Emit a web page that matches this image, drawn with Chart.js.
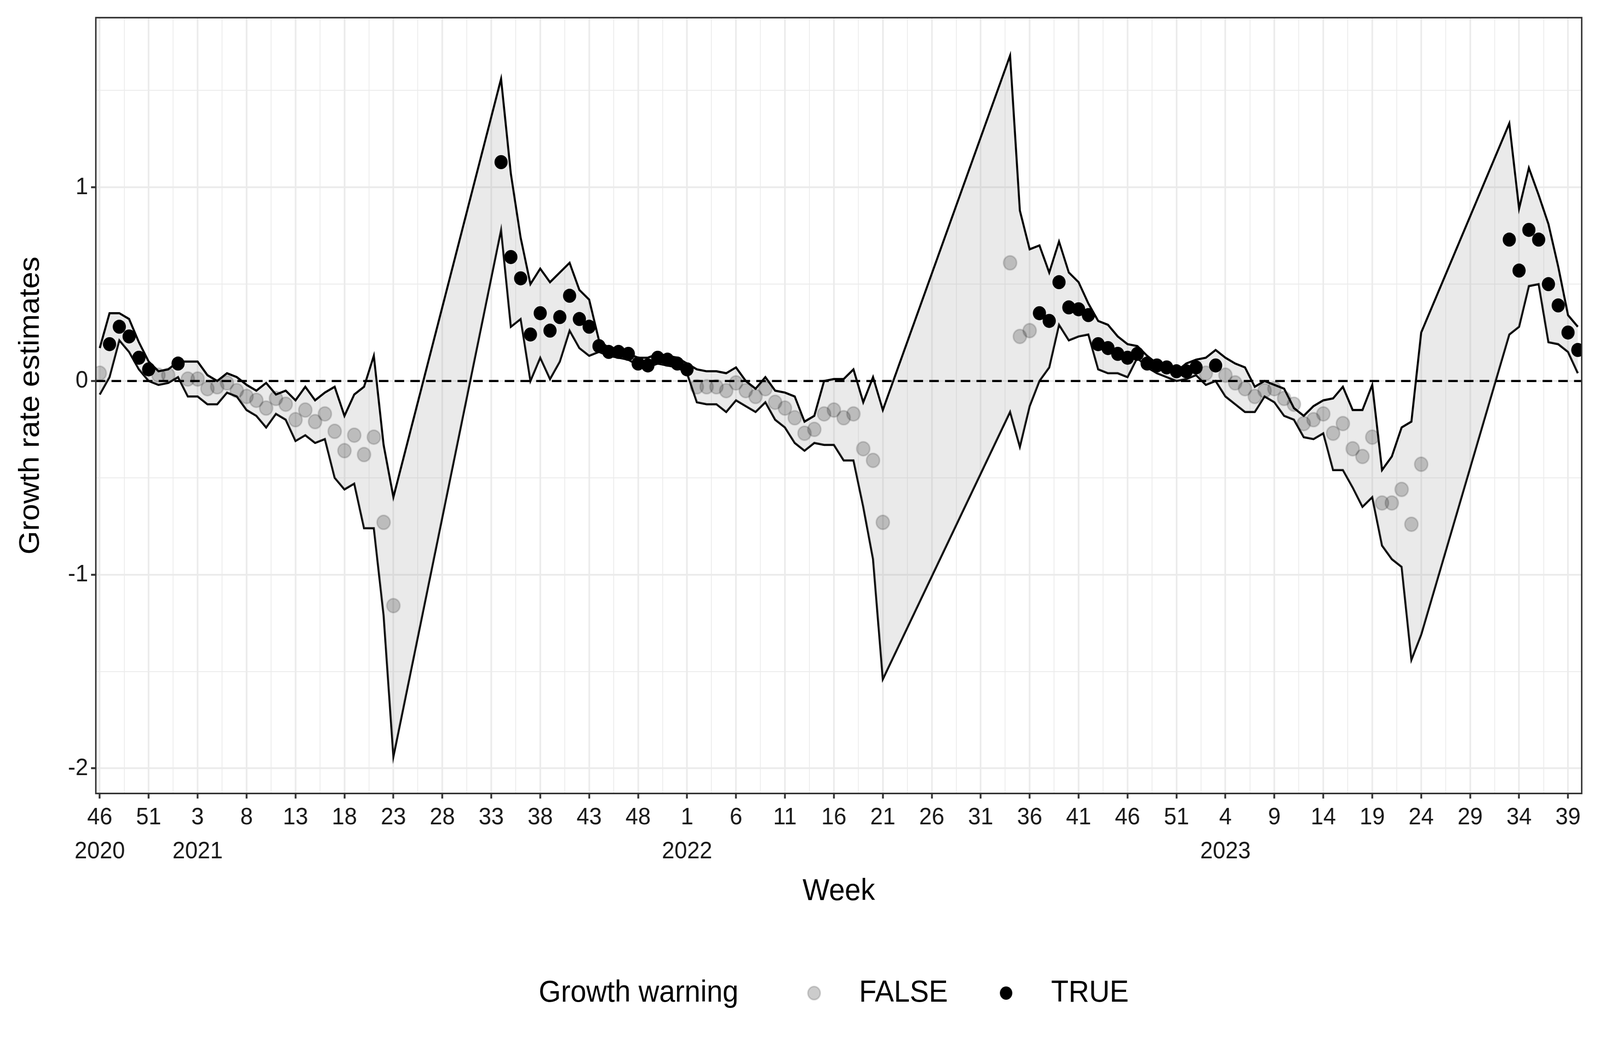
<!DOCTYPE html>
<html>
<head>
<meta charset="utf-8">
<script src="https://cdn.jsdelivr.net/npm/chart.js@4"></script>
<style>
  html, body { margin: 0; padding: 0; background: #fff; overflow: hidden; }
  canvas { display: block; width: 100vw !important; height: 100vh !important; }
</style>
</head>
<body>
<canvas id="chart" width="4375" height="2703"></canvas>
<script>
// weeks 2020-46 .. 2023-40 (2020 has 53 ISO weeks)
const yearWeeks = [[2020, 46, 53], [2021, 1, 52], [2022, 1, 52], [2023, 1, 40]];
const weeks = [];
yearWeeks.forEach(([yr, a, b]) => { for (let w = a; w <= b; w++) weeks.push({ yr, w }); });

const N = null;
const estimate = [
  0.04, 0.19, 0.28, 0.23, 0.12, 0.06, 0.03, 0.03, 0.09, 0.01,
  0.01, -0.04, -0.03, -0.01, -0.05, -0.08, -0.1, -0.14, -0.09, -0.12,
  -0.2, -0.15, -0.21, -0.17, -0.26, -0.36, -0.28, -0.38, -0.29, -0.73,
  -1.16, N, N, N, N, N, N, N, N, N,
  N, 1.13, 0.64, 0.53, 0.24, 0.35, 0.26, 0.33, 0.44, 0.32,
  0.28, 0.18, 0.15, 0.15, 0.14, 0.09, 0.08, 0.12, 0.11, 0.09,
  0.06, -0.03, -0.03, -0.03, -0.05, -0.01, -0.05, -0.08, -0.04, -0.11,
  -0.14, -0.19, -0.27, -0.25, -0.17, -0.15, -0.19, -0.17, -0.35, -0.41,
  -0.73, N, N, N, N, N, N, N, N, N,
  N, N, N, 0.61, 0.23, 0.26, 0.35, 0.31, 0.51, 0.38,
  0.37, 0.34, 0.19, 0.17, 0.14, 0.12, 0.14, 0.09, 0.08, 0.07,
  0.05, 0.05, 0.07, 0.04, 0.08, 0.03, -0.01, -0.04, -0.08, -0.05,
  -0.04, -0.09, -0.12, -0.22, -0.2, -0.17, -0.27, -0.22, -0.35, -0.39,
  -0.29, -0.63, -0.63, -0.56, -0.74, -0.43, N, N, N, N,
  N, N, N, N, 0.73, 0.57, 0.78, 0.73, 0.5, 0.39,
  0.25, 0.16
];
const warning = [
  0, 1, 1, 1, 1, 1, 0, 0, 1, 0,
  0, 0, 0, 0, 0, 0, 0, 0, 0, 0,
  0, 0, 0, 0, 0, 0, 0, 0, 0, 0,
  0, 0, 0, 0, 0, 0, 0, 0, 0, 0,
  0, 1, 1, 1, 1, 1, 1, 1, 1, 1,
  1, 1, 1, 1, 1, 1, 1, 1, 1, 1,
  1, 0, 0, 0, 0, 0, 0, 0, 0, 0,
  0, 0, 0, 0, 0, 0, 0, 0, 0, 0,
  0, 0, 0, 0, 0, 0, 0, 0, 0, 0,
  0, 0, 0, 0, 0, 0, 1, 1, 1, 1,
  1, 1, 1, 1, 1, 1, 1, 1, 1, 1,
  1, 1, 1, 0, 1, 0, 0, 0, 0, 0,
  0, 0, 0, 0, 0, 0, 0, 0, 0, 0,
  0, 0, 0, 0, 0, 0, 0, 0, 0, 0,
  0, 0, 0, 0, 1, 1, 1, 1, 1, 1,
  1, 1
];
const upper = [
  0.17, 0.35, 0.35, 0.32, 0.2, 0.1, 0.05, 0.06, 0.1, 0.1,
  0.1, 0.03, 0.0, 0.04, 0.02, -0.02, -0.05, -0.01, -0.07, -0.05,
  -0.1, -0.03, -0.1, -0.06, -0.03, -0.18, -0.07, -0.03, 0.13, -0.33,
  -0.6, N, N, N, N, N, N, N, N, N,
  N, 1.56, 1.07, 0.74, 0.5, 0.58, 0.51, 0.56, 0.61, 0.47,
  0.42, 0.21, 0.17, 0.16, 0.14, 0.12, 0.12, 0.14, 0.13, 0.12,
  0.09, 0.06, 0.05, 0.05, 0.04, 0.07, 0.0, -0.04, 0.02, -0.05,
  -0.06, -0.08, -0.21, -0.18, 0.0, 0.01, 0.01, 0.06, -0.11, 0.02,
  -0.15, N, N, N, N, N, N, N, N, N,
  N, N, N, 1.68, 0.88, 0.68, 0.7, 0.56, 0.72, 0.56,
  0.51, 0.4, 0.31, 0.29, 0.23, 0.19, 0.18, 0.13, 0.09, 0.07,
  0.05, 0.09, 0.11, 0.12, 0.16, 0.12, 0.09, 0.07, -0.03, 0.0,
  -0.02, -0.04, -0.14, -0.18, -0.13, -0.1, -0.09, -0.03, -0.15, -0.15,
  -0.02, -0.46, -0.39, -0.24, -0.21, 0.25, N, N, N, N,
  N, N, N, N, 1.33, 0.89, 1.1, 0.96, 0.81, 0.59,
  0.34, 0.28
];
const lower = [
  -0.07, 0.02, 0.21, 0.15, 0.06, 0.0, -0.02, -0.01, 0.02, -0.08,
  -0.08, -0.12, -0.12, -0.06, -0.08, -0.15, -0.18, -0.24, -0.17, -0.2,
  -0.31, -0.28, -0.32, -0.3, -0.5, -0.56, -0.53, -0.76, -0.76, -1.21,
  -1.94, N, N, N, N, N, N, N, N, N,
  N, 0.78, 0.28, 0.32, 0.0, 0.12, 0.01, 0.1, 0.26, 0.17,
  0.13, 0.15, 0.13, 0.12, 0.11, 0.08, 0.07, 0.09, 0.08, 0.07,
  0.04, -0.11, -0.12, -0.12, -0.16, -0.1, -0.13, -0.16, -0.11, -0.2,
  -0.24, -0.32, -0.36, -0.32, -0.33, -0.33, -0.41, -0.41, -0.65, -0.92,
  -1.54, N, N, N, N, N, N, N, N, N,
  N, N, N, -0.16, -0.34, -0.13, 0.0, 0.07, 0.29, 0.21,
  0.23, 0.24, 0.06, 0.04, 0.04, 0.02, 0.12, 0.07, 0.04, 0.02,
  0.0, 0.01, 0.03, -0.02, 0.0, -0.08, -0.12, -0.16, -0.16, -0.08,
  -0.11, -0.18, -0.2, -0.29, -0.3, -0.27, -0.46, -0.46, -0.55, -0.65,
  -0.6, -0.85, -0.92, -0.96, -1.44, -1.31, N, N, N, N,
  N, N, N, N, 0.24, 0.28, 0.49, 0.5, 0.2, 0.19,
  0.15, 0.04
];
const yTicks = [-2, -1, 0, 1];

const pts = arr => arr.map((v, i) => ({ x: i, y: v }));
const falsePts = estimate.map((v, i) => ({ x: i, y: (v !== null && !warning[i]) ? v : null }));
const truePts = estimate.map((v, i) => ({ x: i, y: (v !== null && warning[i]) ? v : null }));

const FONT = 'Liberation Sans, Arial, sans-serif';
const XMIN = -0.4, XMAX = 151.4;

const overlay = {
  id: 'overlay',
  afterDraw(chart) {
    const { ctx, chartArea: a } = chart;
    ctx.save();
    ctx.strokeStyle = '#333333';
    ctx.lineWidth = 4;
    ctx.strokeRect(a.left, a.top, a.right - a.left, a.bottom - a.top);
    ctx.fillStyle = '#000';
    ctx.font = '78px ' + FONT;
    ctx.textAlign = 'center';
    ctx.textBaseline = 'middle';
    ctx.fillText('Week', (a.left + a.right) / 2, 2282);
    ctx.save();
    ctx.translate(84, (a.top + a.bottom) / 2);
    ctx.rotate(-Math.PI / 2);
    ctx.fillText('Growth rate estimates', 0, 0);
    ctx.restore();
    // legend
    ctx.textAlign = 'left';
    const ly = 2542;
    ctx.fillText('Growth warning', 1473, ly);
    ctx.beginPath(); ctx.arc(2226, ly, 17, 0, Math.PI * 2);
    ctx.fillStyle = 'rgba(0,0,0,0.2)'; ctx.fill();
    ctx.strokeStyle = 'rgba(0,0,0,0.15)'; ctx.lineWidth = 4; ctx.stroke();
    ctx.fillStyle = '#000';
    ctx.fillText('FALSE', 2349, ly);
    ctx.beginPath(); ctx.arc(2751, ly, 17, 0, Math.PI * 2); ctx.fill();
    ctx.fillText('TRUE', 2874, ly);
    ctx.restore();
  }
};

new Chart(document.getElementById('chart'), {
  type: 'line',
  data: {
    datasets: [
      { label: 'FALSE', type: 'scatter', data: falsePts, order: 0,
        pointRadius: 18, pointBackgroundColor: 'rgba(0,0,0,0.2)',
        pointBorderColor: 'rgba(0,0,0,0.15)', pointBorderWidth: 4, showLine: false },
      { label: 'TRUE', type: 'scatter', data: truePts, order: 0,
        pointRadius: 18, pointBackgroundColor: '#000', pointBorderColor: '#000',
        pointBorderWidth: 0, showLine: false },
      { label: 'zero', data: [{ x: XMIN, y: 0 }, { x: XMAX, y: 0 }], order: 1,
        borderColor: '#000', borderWidth: 5.5, borderDash: [26, 17], pointRadius: 0, fill: false },
      { label: 'upper', data: pts(upper), order: 2, spanGaps: true,
        borderColor: '#000', borderWidth: 5.5, pointRadius: 0, tension: 0,
        fill: '+1', backgroundColor: 'rgba(150,150,150,0.2)' },
      { label: 'lower', data: pts(lower), order: 2, spanGaps: true,
        borderColor: '#000', borderWidth: 5.5, pointRadius: 0, tension: 0, fill: false }
    ]
  },
  options: {
    responsive: false,
    animation: false,
    devicePixelRatio: 1,
    layout: { padding: { left: 0, right: 50, top: 42, bottom: 0 } },
    plugins: { legend: { display: false }, tooltip: { enabled: false } },
    scales: {
      x: {
        type: 'linear', min: XMIN, max: XMAX,
        afterBuildTicks: s => { s.ticks = []; for (let v = 0; v <= 150; v += 2.5) s.ticks.push({ value: v }); },
        afterFit: s => { s.height = 2703 - 2031; },
        grid: {
          color: '#EBEBEB',
          lineWidth: c => (c.tick && c.tick.value % 5 === 0) ? 4.5 : 2.2,
          tickColor: c => (c.tick && c.tick.value % 5 === 0) ? '#333333' : 'rgba(0,0,0,0)',
          tickLength: 13, tickWidth: 5
        },
        border: { display: false },
        ticks: {
          autoSkip: false, maxRotation: 0, padding: 6,
          color: '#1a1a1a', font: { family: FONT, size: 62, lineHeight: 1.4 },
          callback: v => {
            if (v % 5 !== 0) return '';
            const wk = weeks[v];
            if (!wk) return '';
            return (v === 0 || wk.w <= 5) ? [String(wk.w), String(wk.yr)] : [String(wk.w), ''];
          }
        }
      },
      y: {
        min: -2.13, max: 1.876,
        afterBuildTicks: s => { s.ticks = []; for (let v = -2; v <= 1.5; v += 0.5) s.ticks.push({ value: v }); },
        afterFit: s => { s.width = 262; },
        grid: {
          color: '#EBEBEB',
          lineWidth: c => (c.tick && yTicks.includes(c.tick.value)) ? 4.5 : 2.2,
          tickColor: c => (c.tick && yTicks.includes(c.tick.value)) ? '#333333' : 'rgba(0,0,0,0)',
          tickLength: 13, tickWidth: 5
        },
        border: { display: false },
        ticks: {
          padding: 8, color: '#1a1a1a', font: { family: FONT, size: 62 },
          callback: v => yTicks.includes(v) ? String(v) : ''
        }
      }
    }
  },
  plugins: [overlay]
});
</script>
</body>
</html>
